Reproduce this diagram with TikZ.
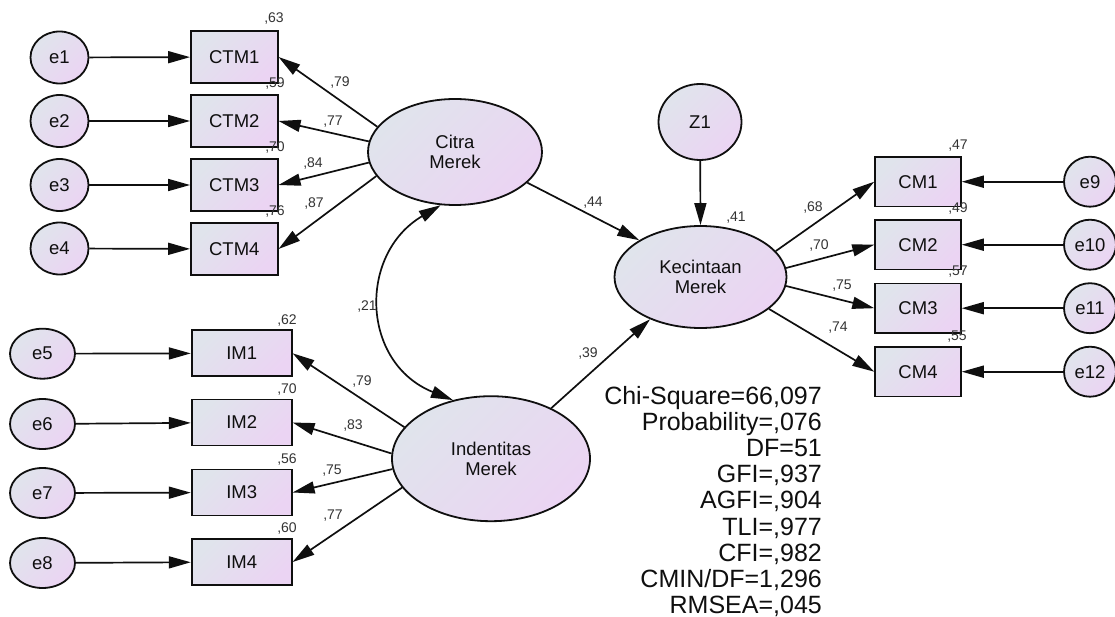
\documentclass[tikz,border=0pt]{standalone}
\usepackage{fontspec}
\setmainfont{Liberation Sans}
\usetikzlibrary{shapes.geometric,arrows.meta,calc}
\definecolor{fa}{RGB}{224,228,236}
\definecolor{fb}{RGB}{235,212,243}
\definecolor{ink}{RGB}{15,15,15}
\begin{document}
\begin{tikzpicture}[x=1pt,y=-1pt,
  shadefill/.style={left color=fa,right color=fb,shading angle=45},
  obs/.style={draw=ink,line width=1.8pt,shadefill,rectangle,inner sep=0pt,text=ink,font=\fontsize{18.5}{20}\selectfont},
  err/.style={draw=ink,line width=1.8pt,shadefill,ellipse,inner sep=0pt,text=ink,font=\fontsize{18.5}{20}\selectfont},
  lat/.style={draw=ink,line width=1.8pt,shadefill,ellipse,inner sep=0pt,align=center,text=ink,font=\fontsize{18.5}{20}\selectfont},
  coef/.style={anchor=base,inner sep=0pt,text=ink!85,font=\fontsize{14}{16}\selectfont},
  stat/.style={anchor=base east,inner sep=0pt,text=ink,font=\fontsize{25}{26}\selectfont},
  conn/.style={draw=ink,line width=1.7pt,-{Triangle[length=22pt,width=12pt]}},
  cov/.style={draw=ink,line width=1.7pt,{Triangle[length=22pt,width=12pt]}-{Triangle[length=22pt,width=12pt]}}
]
\fill[white] (0,0) rectangle (1115,617);
\useasboundingbox (0,0) rectangle (1115,617);

% error terms left top
\foreach \i/\y in {1/57.5,2/121,3/185,4/248.5}
  \node[err,minimum width=58pt,minimum height=52pt] (e\i) at (59.5,\y) {e\i};
% CTM boxes
\foreach \i/\y in {1/57,2/121,3/185,4/249}
  \node[obs,minimum width=86.7pt,minimum height=51.7pt] (ctm\i) at (234.3,\y) {CTM\i};
% error terms left bottom
\foreach \i/\y in {5/353.7,6/424,7/493,8/563}
  \node[err,minimum width=65pt,minimum height=50pt] (e\i) at (42.5,\y) {e\i};
% IM boxes
\foreach \i/\y in {1/353.3,2/422.5,3/492.5,4/562}
  \node[obs,minimum width=100pt,minimum height=46pt] (im\i) at (241.7,\y) {IM\i};
% CM boxes
\foreach \i/\y in {1/181.7,2/244.7,3/308.2,4/371.7}
  \node[obs,minimum width=85.7pt,minimum height=49.5pt] (cm\i) at (918,\y) {CM\i};
% error terms right
\node[err,minimum width=52pt,minimum height=50pt] (e9) at (1090,181.7) {e9};
\node[err,minimum width=52pt,minimum height=50pt] (e10) at (1090,244.7) {e10};
\node[err,minimum width=52pt,minimum height=50pt] (e11) at (1090,308.2) {e11};
\node[err,minimum width=52pt,minimum height=50pt] (e12) at (1090,371.7) {e12};

% latent variables
\node[lat,minimum width=174pt,minimum height=106pt] (citra) at (455,152) {Citra\\Merek};
\node[lat,minimum width=172pt,minimum height=102pt] (kec) at (700.5,277) {Kecintaan\\Merek};
\node[lat,minimum width=198pt,minimum height=125pt] (ind) at (491,458.7) {Indentitas\\Merek};
\node[err,minimum width=83pt,minimum height=76pt] (z1) at (700,122) {Z1};

% error arrows
\foreach \i in {1,2,3,4} \draw[conn] (e\i) -- (ctm\i);
\draw[conn] (e5) -- (im1);
\draw[conn] (e6) -- (im2);
\draw[conn] (e7) -- (im3);
\draw[conn] (e8) -- (im4);
\draw[conn] (e9) -- (cm1);
\draw[conn] (e10) -- (cm2);
\draw[conn] (e11) -- (cm3);
\draw[conn] (e12) -- (cm4);

% loadings
\draw[conn] (citra.162) -- (ctm1.east);
\draw[conn] (citra.173) -- (ctm2.east);
\draw[conn] (citra.187) -- (ctm3.east);
\draw[conn] (citra.197) -- (ctm4.east);
\draw[conn] (ind.160) -- (im1.east);
\draw[conn] (ind.177) -- (im2.east);
\draw[conn] (ind.186) -- (im3.east);
\draw[conn] (ind.198.6) -- (im4.east);
\draw[conn] (kec.19) -- (cm1.west);
\draw[conn] (kec.6.6) -- (cm2.west);
\draw[conn] (kec.-6) -- (cm3.west);
\draw[conn] (kec.-25.7) -- (cm4.west);

% structural paths
\draw[conn] (citra.-23) -- (kec.149);
\draw[conn] (ind.40) -- (kec.220);
\draw[conn] (z1) -- (kec.north);
\draw[cov] (citra.255) .. controls ($(citra.255)+(-83,49)$) and ($(ind.123)+(-92,-37)$) .. (ind.123);

% coefficients
\node[coef] (r1) at (274,23) {,63};
\node[coef] (r2) at (275,88) {,59};
\node[coef] (r3) at (275,152) {,70};
\node[coef] (r4) at (275,216) {,76};
\node[coef] (l1) at (340,87) {,79};
\node[coef] (l2) at (333,126) {,77};
\node[coef] (l3) at (313,168) {,84};
\node[coef] (l4) at (314,208) {,87};
\node[coef] (p1) at (593,207) {,44};
\node[coef] (r13) at (736,222) {,41};
\node[coef] (l9) at (813,212) {,68};
\node[coef] (l10) at (819,250) {,70};
\node[coef] (l11) at (842,290) {,75};
\node[coef] (l12) at (838,331) {,74};
\node[coef] (r9) at (958,150) {,47};
\node[coef] (r10) at (958,213) {,49};
\node[coef] (r11) at (958,276) {,57};
\node[coef] (r12) at (957,340) {,55};
\node[coef] (cv) at (367,310) {,21};
\node[coef] (r5) at (287,324) {,62};
\node[coef] (r6) at (287,393) {,70};
\node[coef] (r7) at (287,463) {,56};
\node[coef] (r8) at (287,532) {,60};
\node[coef] (l5) at (362,385) {,79};
\node[coef] (l6) at (353,429) {,83};
\node[coef] (l7) at (332,474) {,75};
\node[coef] (l8) at (333,519) {,77};
\node[coef] (p2) at (588,357) {,39};

% fit statistics
\node[stat] (s1) at (822,404) {Chi-Square=66,097};
\node[stat] (s2) at (822,430.2) {Probability=,076};
\node[stat] (s3) at (822,456.4) {DF=51};
\node[stat] (s4) at (822,482.6) {GFI=,937};
\node[stat] (s5) at (822,508.8) {AGFI=,904};
\node[stat] (s6) at (822,535) {TLI=,977};
\node[stat] (s7) at (822,561.2) {CFI=,982};
\node[stat] (s8) at (822,587.4) {CMIN/DF=1,296};
\node[stat] (s9) at (822,613.6) {RMSEA=,045};
\end{tikzpicture}
\end{document}
